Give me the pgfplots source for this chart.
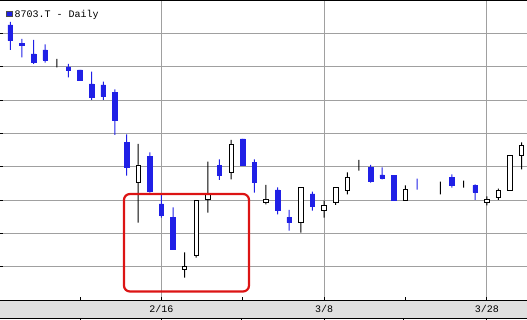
\documentclass[border=0pt]{standalone}
\usepackage{pgfplots}
\pgfplotsset{compat=1.18}
\usepackage{pgfplotstable}
\usepackage{fontspec}
\setmainfont{Liberation Mono}

\definecolor{candleblue}{RGB}{32,32,230}
\definecolor{gridgray}{RGB}{160,160,160}
\definecolor{bandgray}{RGB}{224,224,224}
\definecolor{boxred}{RGB}{220,20,20}

% daily candles: index, open, high, low, close
% falling days (close below open)
\pgfplotstableread{
i  o     h     l     c
0  382.5 383.4 375.0 377.8
1  377.0 378.3 372.8 376.5
2  373.8 378.0 370.8 371.2
3  375.0 376.7 371.2 372.0
5  369.9 370.8 366.8 368.9
6  369.0 369.0 365.8 365.8
7  364.8 368.5 360.0 360.7
8  364.5 365.5 360.0 361.0
9  362.2 363.2 349.5 354.0
10 347.3 349.7 337.3 339.7
12 343.0 344.3 332.2 332.7
13 328.8 331.8 324.7 325.5
14 324.8 327.8 315.2 315.2
18 340.4 342.2 336.0 337.4
20 348.3 348.3 340.4 340.4
21 341.3 342.2 332.2 335.2
23 333.0 333.8 325.7 326.8
24 324.8 327.0 320.8 323.2
26 331.8 332.5 326.8 328.2
31 339.8 340.5 335.2 335.6
32 337.5 339.8 336.2 336.6
33 337.4 337.4 330.0 330.0
35 334.7 336.4 333.1 334.7
38 336.8 337.7 333.7 334.4
40 334.4 334.7 330.0 332.3
}\downdays

% rising or unchanged days
\pgfplotstableread{
i  o     h     l     c
4  370.7 372.3 369.8 370.7
11 335.3 346.8 323.2 340.5
15 309.2 314.3 306.7 310.0
16 313.5 329.9 312.7 329.9
17 330.1 341.5 326.2 331.7
19 338.3 348.0 336.2 346.7
22 329.3 334.5 328.7 330.2
25 323.2 333.8 320.2 333.8
27 326.8 329.8 324.7 328.4
28 329.3 333.8 328.5 333.8
29 332.9 338.3 331.7 336.8
30 340.7 342.0 338.8 340.7
34 330.0 334.4 329.7 333.2
37 334.7 335.5 331.7 334.7
39 334.7 335.8 333.7 334.7
41 329.4 331.1 328.4 330.2
42 330.7 333.4 330.0 333.0
43 333.0 343.4 332.8 343.4
44 343.4 347.3 339.2 346.4
}\updays

\pgfplotsset{
  candleframe/.style={
    scale only axis, width=527bp, height=300bp,
    xmin=-0.886, xmax=44.46, ymin=300, ymax=390,
    at={(0,0)}, anchor=south west
  },
  candlelayer/.style={candleframe, hide axis, ybar stacked, bar width=#1}
}

\begin{document}
\begin{tikzpicture}[font=\fontsize{10bp}{12bp}\selectfont]
\useasboundingbox (0,-20bp) rectangle (527bp,300bp);
% date band under the plot
\fill[bandgray] (0,-18bp) rectangle (527bp,0);
\draw[line width=0.8bp] (0,-18bp) -- (527bp,-18bp);

% grid, ticks and date labels
\begin{axis}[candleframe,
  axis line style={draw=none},
  xtick={13,27,41}, xticklabels={2/16,3/8,3/28},
  minor xtick={6,20,34},
  ytick={310,320,...,380}, yticklabels={},
  xtick pos=bottom, ytick pos=left,
  xmajorgrids, ymajorgrids,
  major grid style={gridgray, line width=0.8bp},
  tick align=inside, major tick length=3bp, minor tick length=3bp,
  every tick/.style={black, line width=0.8bp},
  xticklabel style={anchor=center, yshift=-9bp, inner sep=0pt},
]
\addplot[draw=none] coordinates {(0,300)};
\end{axis}

% wicks: low to high
\begin{axis}[candlelayer=1bp]
\addplot[draw=none, fill=none] table[x=i, y=l] {\downdays};
\addplot[fill=candleblue, draw=none]
  table[x=i, y expr=\thisrow{h}-\thisrow{l}] {\downdays};
\end{axis}
\begin{axis}[candlelayer=1bp]
\addplot[draw=none, fill=none] table[x=i, y=l] {\updays};
\addplot[fill=black, draw=none]
  table[x=i, y expr=\thisrow{h}-\thisrow{l}] {\updays};
\end{axis}

% bodies of falling days
\begin{axis}[candlelayer=4.6bp]
\addplot[draw=none, fill=none] table[x=i, y=c] {\downdays};
\addplot[fill=candleblue, draw=candleblue, line width=0.6bp]
  table[x=i, y expr=\thisrow{o}-\thisrow{c}] {\downdays};
\end{axis}

% bodies of rising days
\begin{axis}[candlelayer=4.4bp]
\addplot[draw=none, fill=none] table[x=i, y=o] {\updays};
\addplot[fill=white, draw=black, line width=0.8bp]
  table[x=i, y expr=\thisrow{c}-\thisrow{o}] {\updays};
\end{axis}

% highlight box
\begin{axis}[candleframe, hide axis]
\draw[boxred, line width=2.2bp, rounded corners=6bp]
  (axis cs:9.78,302.55) rectangle (axis cs:20.54,331.8);
\end{axis}

% frame lines and title
\draw[line width=0.8bp] (0,0) -- (527bp,0);
\draw[line width=0.8bp] (0,300bp) -- (527bp,300bp);
\foreach \t in {80.0,161.4,241.7,324.0,403.3,486.7}
  \draw[line width=0.8bp] (\t bp,-18bp) -- (\t bp,-20bp);
\fill[candleblue, draw=black!70, line width=0.4bp] (5.7bp,283.3bp) rectangle (11.7bp,289bp);
\node[anchor=base west, inner sep=0pt] at (14.5bp,282.7bp) {8703.T - Daily};
\end{tikzpicture}
\end{document}
